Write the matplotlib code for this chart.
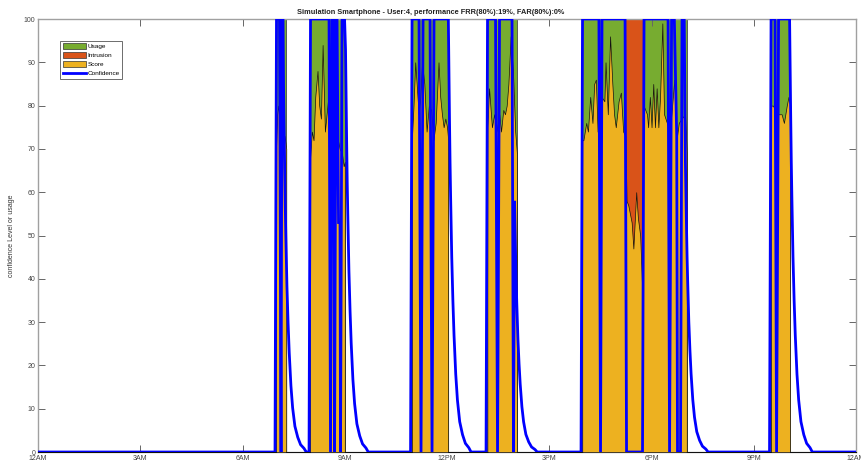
import numpy as np
import matplotlib.pyplot as plt
from matplotlib.patches import Patch
from matplotlib.lines import Line2D

plt.rcParams['font.family'] = ['Liberation Sans', 'DejaVu Sans']

# x axis: minutes since midnight
tick_minutes = [0, 180, 360, 540, 720, 900, 1080, 1260, 1440]
tick_labels = ['12AM', '3AM', '6AM', '9AM', '12PM', '3PM', '6PM', '9PM', '12AM']

# usage periods (minutes)
usage_start = [419, 479, 658, 791, 958, 1066, 1290]
usage_end = [437, 540, 722, 843, 1034, 1142, 1324]

# intrusion period (minutes)
intrusion_start = [1034]
intrusion_end = [1066]

# score samples per active block (minutes, value)
score_times = [
    [419, 421, 423, 426, 428, 430, 432, 434, 437],
    [479, 482, 485, 488, 492, 495, 498, 501, 505, 508, 511, 514, 517, 521,
     525, 528, 531, 535, 538, 540],
    [658, 661, 664, 667, 670, 673, 676, 680, 684, 688, 692, 696, 700, 705,
     708, 711, 714, 717, 720, 722],
    [791, 794, 799, 803, 807, 812, 815, 819, 822, 825, 828, 832, 836, 840, 843],
    [958, 960, 965, 968, 972, 976, 979, 982, 985, 988, 992, 997, 999, 1003,
     1007, 1011, 1014, 1017, 1022, 1026, 1030, 1034,
     1036, 1039, 1045, 1048, 1053, 1056, 1060, 1063,
     1066, 1072, 1074, 1077, 1080, 1083, 1086, 1089, 1092, 1095, 1099, 1102,
     1107, 1112, 1115, 1120, 1124, 1128, 1133, 1139, 1142],
    [1290, 1294, 1300, 1305, 1309, 1313, 1318, 1321, 1324],
]
score_values = [
    [70, 78, 80, 76, 72, 75, 70, 73, 70],
    [68, 74, 72, 82, 88, 80, 77, 94, 74, 78, 82, 79, 81, 81,
     80, 72, 70, 69, 66, 67],
    [72, 80, 90, 84, 78, 82, 90, 85, 74, 80, 79, 72, 76, 90,
     82, 78, 75, 77, 75, 72],
    [75, 84, 75, 78, 74, 78, 74, 79, 78, 80, 85, 96, 88, 74, 69],
    [72, 72, 76, 74, 82, 76, 85, 86, 74, 78, 82, 81, 90, 78,
     96, 85, 78, 75, 81, 83, 74, 73,
     58, 57, 53, 47, 60, 54, 50, 39,
     80, 78, 75, 82, 75, 85, 75, 84, 75, 82, 99, 78,
     76, 74, 78, 86, 72, 76, 77, 78, 69],
    [80, 80, 78, 78, 78, 76, 80, 82, 80],
]

# confidence breakpoints while active (minutes, value)
conf_times = [
    [417.2, 419.8, 425.1, 427.8, 429.5, 431.3],
    [477.1, 479.7, 512.3, 514.9, 517.6, 520.2, 522.0, 524.6, 526.4, 529.0,
     531.6, 532.5, 535.2, 539.6],
    [655.8, 658.4, 670.7, 674.2, 677.8, 690.1, 693.6, 697.1, 720.9],
    [788.7, 791.3, 805.4, 808.9, 812.4, 834.4, 837.0],
    [955.9, 958.5, 987.4, 990.2, 992.8, 1033.4, 1036.0, 1064.1, 1066.8,
     1109.1, 1111.7, 1115.3, 1120.1, 1124.3, 1125.7, 1131.0, 1133.7, 1137.5],
    [1287.7, 1290.4, 1297.4, 1300.1, 1303.6, 1322.1],
]
conf_values = [
    [0, 100, 100, 0, 100, 100],
    [0, 100, 100, 0, 100, 100, 0, 100, 100, 53, 53, 0, 100, 100],
    [0, 100, 100, 0, 100, 100, 0, 100, 100],
    [0, 100, 100, 0, 100, 100, 0],
    [0, 100, 100, 0, 100, 100, 0, 0, 100, 100, 0, 100, 100, 73, 0, 0, 100, 100],
    [0, 100, 100, 0, 100, 100],
]
# confidence fade-out after each block
tail_start = [432.2, 541.3, 722.3, 838.8, 1139.6, 1323.0]
tail_level = [85, 93, 100, 58, 67, 100]
decay_offset = [0, 1, 2, 3, 4, 6, 8, 10, 13, 16, 20, 25, 30, 36, 40]
decay_frac = [1, .88, .77, .67, .59, .45, .35, .27, .18, .12, .07, .04, .02, .01, 0]

title = 'Simulation Smartphone - User:4, performance FRR(80%):19%, FAR(80%):0%'

c_usage = '#77AC30'
c_intr = '#D95319'
c_score = '#EDB120'
c_conf = '#0000FF'


def block_series(starts, ends, level):
    xs, ys = [0], [0]
    for s, e in zip(starts, ends):
        xs += [s, s, e, e]
        ys += [0, level, level, 0]
    xs.append(1440)
    ys.append(0)
    return np.array(xs, float), np.array(ys, float)


def score_series():
    xs, ys = [0], [0]
    for tt, vv in zip(score_times, score_values):
        xs += [tt[0]] + tt + [tt[-1]]
        ys += [0] + vv + [0]
    xs.append(1440)
    ys.append(0)
    return np.array(xs, float), np.array(ys, float)


def conf_series():
    pts = [(0, 0), (1440, 0)]
    for tt, vv in zip(conf_times, conf_values):
        pts += list(zip(tt, vv))
    for t0, v0 in zip(tail_start, tail_level):
        pts += [(t0 + d, v0 * f) for d, f in zip(decay_offset, decay_frac)]
    pts.sort(key=lambda p: p[0])
    return np.array([p[0] for p in pts]), np.array([p[1] for p in pts])


fig = plt.figure(figsize=(8.62, 4.67), dpi=100)
ax = fig.add_axes([0.0441, 0.0321, 0.9490, 0.9272])

ux, uy = block_series(usage_start, usage_end, 100)
ax.fill_between(ux, 0, uy, facecolor=c_usage, edgecolor='#333333', linewidth=0.5, zorder=1)
ix, iy = block_series(intrusion_start, intrusion_end, 100)
ax.fill_between(ix, 0, iy, facecolor=c_intr, edgecolor='#333333', linewidth=0.5, zorder=2)
sx, sy = score_series()
ax.fill_between(sx, 0, sy, facecolor=c_score, edgecolor='#111111', linewidth=0.5, zorder=3)
cx, cy = conf_series()
ax.plot(cx, cy, color=c_conf, linewidth=2.0, zorder=4, solid_joinstyle='miter')

ax.set_xlim(0, 1440)
ax.set_ylim(0, 100)
ax.set_xticks(tick_minutes)
ax.set_xticklabels(tick_labels)
ax.set_yticks(np.arange(0, 101, 10))
ax.tick_params(direction='in', length=5, width=0.7, color='#666666',
               labelsize=5, labelcolor='#444444', top=True, right=True, pad=2)
for sp in ax.spines.values():
    sp.set_color('#a0a0a0')
    sp.set_linewidth(1.0)

ax.set_ylabel('confidence Level or usage', fontsize=5, color='#333333', labelpad=6)
fig.text(0.5, 0.974, title, ha='center', va='center', fontsize=5.3,
         fontweight='bold', color='#222222')

handles = [
    Patch(facecolor=c_usage, edgecolor='#333333', linewidth=0.5),
    Patch(facecolor=c_intr, edgecolor='#333333', linewidth=0.5),
    Patch(facecolor=c_score, edgecolor='#333333', linewidth=0.5),
    Line2D([], [], color=c_conf, linewidth=2.0),
]
leg = ax.legend(handles, ['Usage', 'Intrusion', 'Score', 'Confidence'],
                loc='upper left', bbox_to_anchor=(0.027, 0.95), borderaxespad=0,
                fontsize=4.6, handlelength=3.6, handleheight=1.0, handletextpad=0.3,
                labelspacing=0.45, borderpad=0.4, fancybox=False, framealpha=1)
leg.get_frame().set_edgecolor('#555555')
leg.get_frame().set_linewidth(0.6)

fig.savefig('out.png', dpi=100)
